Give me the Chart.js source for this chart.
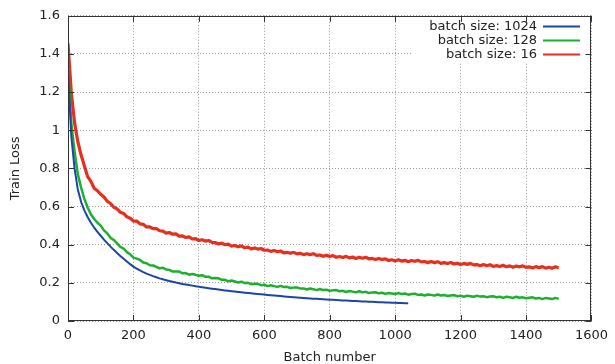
<!DOCTYPE html>
<html>
<head>
<meta charset="utf-8">
<script src="https://cdn.jsdelivr.net/npm/chart.js@4.4.1/dist/chart.umd.min.js"></script>
<style>
  html, body { margin: 0; padding: 0; background: #fff; }
  #chart { display: block; }
</style>
</head>
<body>
<canvas id="chart" width="615" height="364"></canvas>
<script>
// batch numbers (x), sampled every 10 batches
const batchNumbers = [
  0, 10, 20, 30, 40, 50, 60, 70, 80, 90,
  100, 110, 120, 130, 140, 150, 160, 170, 180, 190,
  200, 210, 220, 230, 240, 250, 260, 270, 280, 290,
  300, 310, 320, 330, 340, 350, 360, 370, 380, 390,
  400, 410, 420, 430, 440, 450, 460, 470, 480, 490,
  500, 510, 520, 530, 540, 550, 560, 570, 580, 590,
  600, 610, 620, 630, 640, 650, 660, 670, 680, 690,
  700, 710, 720, 730, 740, 750, 760, 770, 780, 790,
  800, 810, 820, 830, 840, 850, 860, 870, 880, 890,
  900, 910, 920, 930, 940, 950, 960, 970, 980, 990,
  1000, 1010, 1020, 1030, 1040, 1050, 1060, 1070, 1080, 1090,
  1100, 1110, 1120, 1130, 1140, 1150, 1160, 1170, 1180, 1190,
  1200, 1210, 1220, 1230, 1240, 1250, 1260, 1270, 1280, 1290,
  1300, 1310, 1320, 1330, 1340, 1350, 1360, 1370, 1380, 1390,
  1400, 1410, 1420, 1430, 1440, 1450, 1460, 1470, 1480, 1490,
  1500
];

// batch size 1024 (ends at batch 1040)
const loss1024 = [
  1.32, 0.97, 0.80, 0.69, 0.625, 0.58, 0.545, 0.515, 0.49, 0.467,
  0.447, 0.427, 0.408, 0.390, 0.373, 0.357, 0.341, 0.326, 0.312, 0.298,
  0.285, 0.2745, 0.265, 0.2565, 0.2485, 0.2415, 0.235, 0.229, 0.2235, 0.2185,
  0.214, 0.2095, 0.2055, 0.2015, 0.198, 0.1945, 0.1915, 0.1885, 0.1855, 0.1827,
  0.180, 0.1773, 0.1747, 0.1721, 0.1696, 0.1672, 0.1649, 0.1626, 0.1604, 0.1583,
  0.1562, 0.1542, 0.1523, 0.1504, 0.1486, 0.1468, 0.1451, 0.1434, 0.1418, 0.1402,
  0.1386, 0.1369, 0.1352, 0.1336, 0.1320, 0.1305, 0.1290, 0.1275, 0.1261, 0.1247,
  0.1234, 0.1221, 0.1208, 0.1196, 0.1184, 0.1172, 0.1161, 0.1150, 0.1139, 0.1129,
  0.1119, 0.1109, 0.1099, 0.1089, 0.1080, 0.1071, 0.1062, 0.1053, 0.1044, 0.1036,
  0.1028, 0.1020, 0.1012, 0.1004, 0.0996, 0.0989, 0.0982, 0.0975, 0.0968, 0.0961,
  0.0954, 0.0947, 0.0940, 0.0934, 0.0928
];

// batch size 128
const loss128 = [
  1.33, 1.04, 0.89, 0.77, 0.70, 0.64, 0.595, 0.56, 0.535, 0.515,
  0.500, 0.475, 0.459, 0.436, 0.425, 0.407, 0.388, 0.380, 0.361, 0.350,
  0.332, 0.327, 0.320, 0.307, 0.303, 0.292, 0.291, 0.284, 0.276, 0.279,
  0.270, 0.268, 0.259, 0.260, 0.259, 0.250, 0.251, 0.243, 0.246, 0.242,
  0.237, 0.240, 0.232, 0.232, 0.224, 0.225, 0.224, 0.216, 0.216, 0.208,
  0.212, 0.207, 0.202, 0.206, 0.199, 0.200, 0.193, 0.195, 0.195, 0.188,
  0.190, 0.183, 0.187, 0.183, 0.179, 0.184, 0.178, 0.179, 0.173, 0.175,
  0.176, 0.170, 0.171, 0.165, 0.170, 0.167, 0.162, 0.168, 0.162, 0.164,
  0.158, 0.161, 0.162, 0.156, 0.158, 0.152, 0.157, 0.154, 0.150, 0.156,
  0.150, 0.153, 0.147, 0.150, 0.151, 0.145, 0.148, 0.142, 0.147, 0.144,
  0.141, 0.147, 0.141, 0.144, 0.138, 0.141, 0.143, 0.137, 0.139, 0.134,
  0.139, 0.137, 0.133, 0.139, 0.134, 0.136, 0.131, 0.134, 0.136, 0.130,
  0.133, 0.127, 0.133, 0.130, 0.127, 0.133, 0.128, 0.130, 0.125, 0.128,
  0.130, 0.124, 0.127, 0.121, 0.127, 0.124, 0.121, 0.127, 0.122, 0.124,
  0.119, 0.122, 0.124, 0.118, 0.121, 0.115, 0.121, 0.118, 0.115, 0.121,
  0.116
];

// batch size 16
const loss16 = [
  1.455, 1.20, 1.04, 0.94, 0.87, 0.814, 0.757, 0.732, 0.696, 0.683,
  0.664, 0.650, 0.628, 0.616, 0.596, 0.588, 0.570, 0.564, 0.546, 0.539,
  0.524, 0.524, 0.509, 0.507, 0.493, 0.493, 0.484, 0.485, 0.473, 0.471,
  0.461, 0.464, 0.455, 0.457, 0.445, 0.446, 0.438, 0.441, 0.430, 0.432,
  0.422, 0.426, 0.419, 0.422, 0.412, 0.411, 0.404, 0.408, 0.400, 0.403,
  0.393, 0.396, 0.389, 0.394, 0.384, 0.387, 0.378, 0.383, 0.377, 0.380,
  0.371, 0.372, 0.365, 0.370, 0.363, 0.367, 0.357, 0.360, 0.355, 0.360,
  0.352, 0.355, 0.348, 0.353, 0.348, 0.353, 0.344, 0.346, 0.339, 0.345,
  0.338, 0.343, 0.334, 0.338, 0.333, 0.339, 0.331, 0.335, 0.328, 0.334,
  0.329, 0.334, 0.326, 0.328, 0.322, 0.328, 0.322, 0.326, 0.317, 0.321,
  0.315, 0.321, 0.314, 0.318, 0.311, 0.317, 0.313, 0.318, 0.310, 0.312,
  0.306, 0.312, 0.306, 0.311, 0.302, 0.306, 0.301, 0.307, 0.299, 0.303,
  0.296, 0.302, 0.297, 0.302, 0.294, 0.296, 0.290, 0.296, 0.290, 0.295,
  0.286, 0.290, 0.286, 0.292, 0.284, 0.289, 0.282, 0.288, 0.284, 0.289,
  0.281, 0.284, 0.278, 0.285, 0.280, 0.285, 0.277, 0.282, 0.277, 0.284,
  0.278
];

const seriesLabels = ['batch size: 1024', 'batch size: 128', 'batch size: 16'];
const seriesColors = ['#1c46a6', '#1cb02e', '#e6301d'];

const FONT = "'DejaVu Sans', 'Liberation Sans', sans-serif";
const INK = '#222222';

const toPoints = values => values.map((v, i) => ({ x: batchNumbers[i], y: v }));

// white box behind the key, drawn over the grid but under the lines
const keyBox = {
  id: 'keyBox',
  beforeDatasetsDraw(chart) {
    const ctx = chart.ctx;
    ctx.save();
    ctx.fillStyle = '#ffffff';
    ctx.fillRect(412, 18, 178, 45);
    ctx.restore();
  },
  afterDraw(chart) {
    const ctx = chart.ctx;
    const { left, right, top, bottom } = chart.chartArea;
    const xs = chart.scales.x;
    const ys = chart.scales.y;
    ctx.save();

    // frame
    ctx.strokeStyle = '#333333';
    ctx.lineWidth = 1;
    ctx.strokeRect(Math.round(left) + 0.5, Math.round(top) + 0.5,
      Math.round(right - left) - 1, Math.round(bottom - top) - 1);

    // inward tick marks on all four sides
    ctx.beginPath();
    xs.ticks.forEach(t => {
      const px = Math.round(xs.getPixelForValue(t.value)) + 0.5;
      ctx.moveTo(px, bottom); ctx.lineTo(px, bottom - 6);
      ctx.moveTo(px, top); ctx.lineTo(px, top + 6);
    });
    ys.ticks.forEach(t => {
      const py = Math.round(ys.getPixelForValue(t.value)) + 0.5;
      ctx.moveTo(left, py); ctx.lineTo(left + 6, py);
      ctx.moveTo(right, py); ctx.lineTo(right - 6, py);
    });
    ctx.stroke();

    // key
    ctx.font = '13px ' + FONT;
    ctx.textAlign = 'right';
    ctx.textBaseline = 'middle';
    const rows = [26.5, 40.5, 54.5];
    seriesLabels.forEach((label, i) => {
      ctx.fillStyle = INK;
      ctx.fillText(label, 537, rows[i] + 0.5);
      ctx.strokeStyle = seriesColors[i];
      ctx.lineWidth = 2;
      ctx.beginPath();
      ctx.moveTo(543, rows[i]);
      ctx.lineTo(580, rows[i]);
      ctx.stroke();
    });
    ctx.restore();
  }
};

new Chart(document.getElementById('chart'), {
  type: 'line',
  data: {
    datasets: [
      { label: seriesLabels[0], data: toPoints(loss1024), borderColor: seriesColors[0], borderWidth: 2 },
      { label: seriesLabels[1], data: toPoints(loss128), borderColor: seriesColors[1], borderWidth: 2.5 },
      { label: seriesLabels[2], data: toPoints(loss16), borderColor: seriesColors[2], borderWidth: 3.2 },
    ],
  },
  options: {
    responsive: false,
    animation: false,
    elements: {
      point: { radius: 0 },
      line: { tension: 0, fill: false, borderJoinStyle: 'round' },
    },
    layout: { padding: { left: 0, right: 19, top: 14, bottom: 0 } },
    plugins: {
      legend: { display: false },
      tooltip: { enabled: false },
    },
    scales: {
      x: {
        type: 'linear',
        min: 0,
        max: 1600,
        ticks: {
          stepSize: 200,
          color: INK,
          padding: 7,
          font: { family: FONT, size: 13 },
          callback: v => String(v),
        },
        grid: { color: '#9a9a9a', lineWidth: 1, drawTicks: false },
        border: { display: false, dash: [1, 2] },
        title: {
          display: true,
          text: 'Batch number',
          color: INK,
          font: { family: FONT, size: 13, lineHeight: 1 },
          padding: { top: 0, bottom: 0 },
        },
        afterFit: s => { s.height = 43; },
      },
      y: {
        type: 'linear',
        min: 0,
        max: 1.6,
        ticks: {
          stepSize: 0.2,
          color: INK,
          padding: 8,
          font: { family: FONT, size: 13 },
          callback: v => String(Math.round(v * 10) / 10),
        },
        grid: { color: '#9a9a9a', lineWidth: 1, drawTicks: false },
        border: { display: false, dash: [1, 2] },
        title: {
          display: true,
          text: 'Train Loss',
          color: INK,
          font: { family: FONT, size: 13, lineHeight: 1 },
          padding: { top: 9, bottom: 0 },
        },
        afterFit: s => { s.width = 68; },
      },
    },
  },
  plugins: [keyBox],
});
</script>
</body>
</html>
